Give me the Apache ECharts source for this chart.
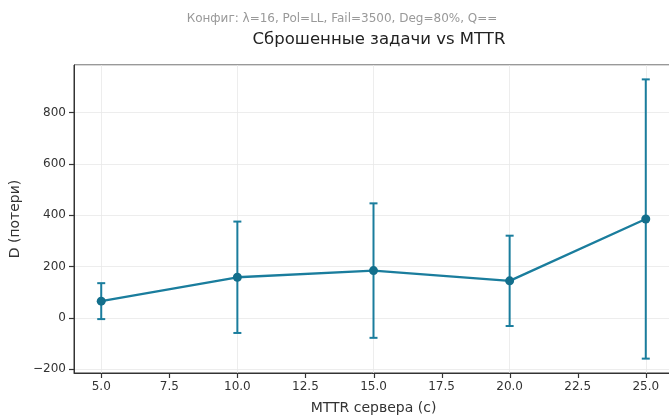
<!DOCTYPE html>
<html>
<head>
<meta charset="utf-8">
<script src="https://cdn.jsdelivr.net/npm/echarts@6/dist/echarts.min.js"></script>
<style>
  html, body { margin: 0; padding: 0; background: #fff; }
  #chart { width: 669px; height: 416px; }
</style>
</head>
<body>
<div id="chart"></div>
<script>
// MTTR values and mean losses with std error bars
var mttr = [5, 10, 15, 20, 25];
var lossMean = [65, 158, 184, 144, 385];
var lossErr = [70, 217, 262, 176, 544];
var xTicks = [5, 7.5, 10, 12.5, 15, 17.5, 20, 22.5, 25];
var yTicks = [-200, 0, 200, 400, 600, 800];
var xMin = 4, xMax = 26;
var yMin = -215, yMax = 985;

var color = '#1a7d9d';
var font = 'DejaVu Sans';

var lineData = [];
var errData = [];
for (var i = 0; i < mttr.length; i++) {
  lineData.push([mttr[i], lossMean[i]]);
  errData.push([mttr[i], lossMean[i] - lossErr[i], lossMean[i] + lossErr[i]]);
}

var chart = echarts.init(document.getElementById('chart'));

var option = {
  animation: false,
  title: [
    {
      text: 'Конфиг: λ=16, Pol=LL, Fail=3500, Deg=80%, Q==',
      left: 337, top: 8, textAlign: 'center',
      textStyle: { fontFamily: font, fontSize: 12, fontWeight: 'normal', color: '#999' }
    },
    {
      text: 'Сброшенные задачи vs MTTR',
      left: 374, top: 26, textAlign: 'center',
      textStyle: { fontFamily: font, fontSize: 16.5, fontWeight: 'normal', color: '#222' }
    }
  ],
  grid: {
    left: 74, top: 65, width: 599, bottom: 43,
    outerBoundsMode: 'none',
    show: true, borderColor: '#333', borderWidth: 1
  },
  xAxis: {
    type: 'value', min: xMin, max: xMax,
    name: 'MTTR сервера (с)', nameLocation: 'middle', nameGap: 28,
    nameTextStyle: { fontFamily: font, fontSize: 14, color: '#333' },
    axisLine: { show: true, onZero: false, lineStyle: { color: '#333', width: 1 } },
    axisTick: { show: false },
    axisLabel: {
      customValues: xTicks, fontFamily: font, fontSize: 12, color: '#333', margin: 8,
      formatter: function(v) { return v.toFixed(1); }
    },
    splitLine: { show: true, lineStyle: { color: '#e8e8e8', width: 0.8 } }
  },
  yAxis: {
    type: 'value', min: yMin, max: yMax,
    name: 'D (потери)', nameLocation: 'middle', nameGap: 49,
    nameTextStyle: { fontFamily: font, fontSize: 14, color: '#333' },
    axisLine: { show: true, onZero: false, lineStyle: { color: '#333', width: 1 } },
    axisTick: { show: false },
    axisLabel: {
      customValues: yTicks, fontFamily: font, fontSize: 12, color: '#333', margin: 8,
      formatter: function(v) { return v < 0 ? '\u2212' + Math.abs(v) : String(v); }
    },
    splitLine: { show: true, lineStyle: { color: '#e8e8e8', width: 0.8 } }
  },
  series: [
    {
      type: 'custom',
      data: errData,
      z: 3,
      renderItem: function(params, api) {
        var x = api.value(0);
        var lo = api.coord([x, api.value(1)]);
        var hi = api.coord([x, api.value(2)]);
        var cap = 4;
        var st = { stroke: color, lineWidth: 2 };
        return {
          type: 'group',
          children: [
            { type: 'line', shape: { x1: lo[0], y1: lo[1], x2: hi[0], y2: hi[1] }, style: st },
            { type: 'line', shape: { x1: lo[0] - cap, y1: lo[1], x2: lo[0] + cap, y2: lo[1] }, style: st },
            { type: 'line', shape: { x1: hi[0] - cap, y1: hi[1], x2: hi[0] + cap, y2: hi[1] }, style: st }
          ]
        };
      }
    },
    {
      type: 'line',
      data: lineData,
      z: 4,
      symbol: 'circle',
      symbolSize: 9,
      lineStyle: { color: color, width: 2.3 },
      itemStyle: { color: '#136f8c' }
    }
  ]
};

chart.setOption(option);

// outward tick marks, placed through the chart's own scales
var tickLen = 5;
var ticks = [];
xTicks.forEach(function(v) {
  var p = chart.convertToPixel({ gridIndex: 0 }, [v, yMin]);
  ticks.push({
    type: 'line', silent: true, z: 20,
    shape: { x1: Math.round(p[0]) + 0.5, y1: p[1], x2: Math.round(p[0]) + 0.5, y2: p[1] + tickLen },
    style: { stroke: '#333', lineWidth: 1.2 }
  });
});
yTicks.forEach(function(v) {
  var p = chart.convertToPixel({ gridIndex: 0 }, [xMin, v]);
  ticks.push({
    type: 'line', silent: true, z: 20,
    shape: { x1: p[0], y1: Math.round(p[1]) + 0.5, x2: p[0] - tickLen, y2: Math.round(p[1]) + 0.5 },
    style: { stroke: '#333', lineWidth: 1.2 }
  });
});
chart.setOption({ graphic: { elements: ticks } });
</script>
</body>
</html>
